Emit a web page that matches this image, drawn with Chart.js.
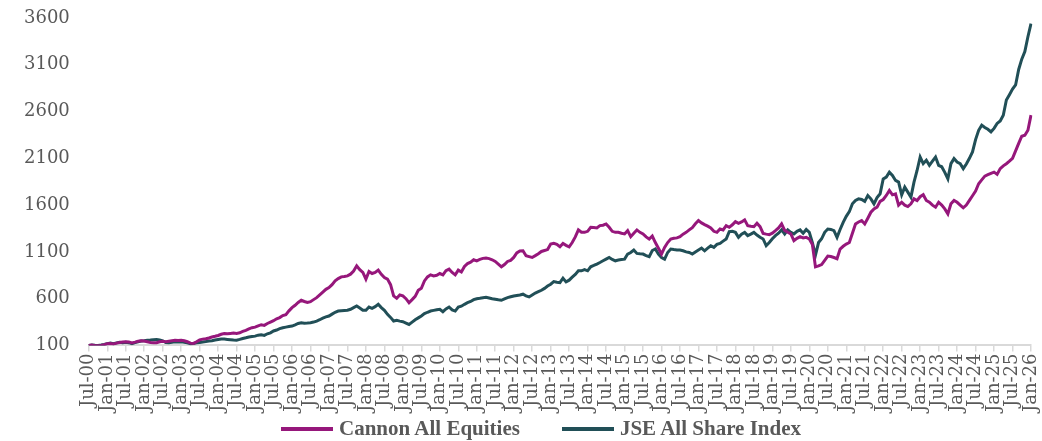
<!DOCTYPE html>
<html>
<head>
<meta charset="utf-8">
<script src="https://cdn.jsdelivr.net/npm/chart.js@4.4.1/dist/chart.umd.min.js"></script>
<style>
  html, body { margin: 0; padding: 0; background: #fff; }
  .wrap { position: relative; width: 1042px; height: 441px; }
  .legend {
    position: absolute; left: 281px; top: 416px;
    display: flex; align-items: center;
    font: bold 21px "Liberation Serif", serif; color: #595959;
    white-space: nowrap;
  }
  .legend .item { display: flex; align-items: center; margin-right: 42px; }
  .legend .swatch { display: inline-block; width: 52px; height: 4px; margin-right: 6px; }
</style>
</head>
<body>
<div class="wrap">
  <canvas id="perfChart" width="1042" height="441"></canvas>
  <div class="legend" id="legend"></div>
</div>
<script>
// Monthly index values, Jul-00 to Jan-26
const START_YEAR = 2000;
const START_MONTH = 6; // July

const CANNON = [
  100, 104, 98, 96, 101, 108,
  118, 122, 115, 125, 132, 136,  140, 138, 128, 136, 145, 150,
  148, 140, 132, 128, 130, 140,  145, 140, 145, 150, 155, 152,
  155, 150, 140, 125, 122, 140,  160, 168, 172, 180, 190, 198,
  207, 220, 228, 226, 229, 232,  229, 235, 250, 262, 278, 290,
  296, 310, 322, 315, 335, 350,  365, 385, 398, 420, 430, 470,
  504, 530, 560, 583, 570, 560,  568, 590, 611, 640, 670, 700,
  718, 750, 790, 815, 833, 838,  844, 862, 895, 951, 910, 880,
  809, 890, 869, 880, 905, 860,  826, 809, 750, 630, 604, 640,
  630, 600, 557, 590, 625, 690,  712, 790, 833, 855, 844, 850,
  869, 855, 900, 916, 880, 855,  905, 885, 945, 975, 990, 1016,
  1005, 1020, 1031, 1035, 1028, 1016,  998, 970, 941, 965, 998, 1010,
  1041, 1090, 1110, 1112, 1059, 1050,  1041, 1060, 1080, 1105, 1115, 1125,
  1184, 1191, 1180, 1155, 1191, 1170,  1155, 1200, 1260, 1335, 1310, 1309,
  1320, 1363, 1360, 1356, 1381, 1385,  1399, 1363, 1320, 1309, 1310, 1300,
  1292, 1327, 1263, 1300, 1335, 1309,  1292, 1260, 1238, 1270, 1200, 1140,
  1077, 1148, 1200, 1238, 1245, 1250,  1263, 1290, 1309, 1335, 1360, 1400,
  1435, 1410, 1392, 1375, 1356, 1320,  1309, 1345, 1335, 1381, 1363, 1390,
  1424, 1406, 1420, 1442, 1381, 1375,  1370, 1406, 1370, 1298, 1290, 1284,
  1300, 1327, 1356, 1399, 1330, 1310,  1292, 1220, 1245, 1263, 1249, 1256,
  1238, 1180, 940, 950, 965, 1010,  1055, 1050, 1040, 1027, 1131, 1160,
  1184, 1200, 1300, 1399, 1420, 1435,  1399, 1460, 1524, 1560, 1578, 1640,
  1660, 1703, 1757, 1710, 1721, 1600,  1631, 1600, 1585, 1614, 1667, 1649,
  1690, 1711, 1650, 1631, 1600, 1578,  1631, 1600, 1560, 1507, 1614, 1650,
  1630, 1600, 1571, 1600, 1650, 1700,  1750, 1829, 1870, 1910, 1925, 1940,
  1953, 1929, 1990, 2020, 2043, 2070,  2100, 2180, 2260, 2336, 2347, 2400,
  2562
];

const JSE = [
  100, 106, 102, 100, 104, 110,
  120, 126, 118, 128, 134, 130,  135, 130, 120, 130, 140, 148,
  150, 155, 158, 162, 165, 160,  150, 132, 130, 135, 140, 138,
  140, 135, 128, 118, 120, 128,  132, 138, 142, 148, 150, 158,
  164, 170, 168, 165, 162, 158,  157, 165, 175, 182, 190, 195,
  200, 210, 215, 208, 225, 235,  255, 265, 280, 290, 296, 302,
  307, 320, 335, 343, 338, 340,  343, 350, 361, 375, 392, 405,
  415, 435, 455, 468, 472, 474,  476, 487, 505, 522, 500, 476,
  476, 511, 497, 515, 540, 505,  476, 433, 400, 361, 368, 360,
  354, 340, 325, 350, 375, 395,  415, 440, 455, 468, 475, 482,
  487, 461, 490, 511, 480, 468,  511, 520, 540, 557, 570, 590,
  600, 605, 611, 615, 608, 600,  594, 588, 583, 598, 611, 620,
  629, 635, 640, 648, 630, 619,  640, 660, 675, 690, 710, 735,
  755, 783, 775, 772, 819, 780,  798, 830, 860, 898, 898, 910,
  898, 941, 955, 970, 987, 1005,  1023, 1041, 1020, 1005, 1013, 1018,
  1023, 1077, 1094, 1120, 1084, 1080,  1077, 1060, 1050, 1115, 1131, 1077,
  1040, 1023, 1094, 1131, 1125, 1120,  1120, 1112, 1100, 1094, 1077, 1100,
  1120, 1141, 1112, 1140, 1166, 1148,  1180, 1191, 1215, 1238, 1317, 1320,
  1309, 1256, 1290, 1309, 1274, 1290,  1309, 1280, 1256, 1238, 1166, 1200,
  1240, 1274, 1300, 1335, 1292, 1335,  1309, 1292, 1320, 1335, 1300, 1340,
  1309, 1200, 1065, 1200, 1240, 1310,  1345, 1340, 1327, 1256, 1340, 1416,
  1480, 1530, 1614, 1649, 1667, 1660,  1640, 1703, 1667, 1614, 1680, 1721,
  1880, 1900, 1953, 1918, 1864, 1846,  1710, 1792, 1739, 1685, 1846, 1970,
  2114, 2043, 2079, 2025, 2070, 2114,  2025, 2010, 1950, 1882, 2043, 2097,
  2060, 2043, 1990, 2040, 2100, 2168,  2300, 2400, 2455, 2430, 2410, 2383,
  2420, 2473, 2500, 2560, 2723, 2780,  2840, 2884, 3050, 3160, 3242, 3400,
  3539
];

const SERIES_NAMES = ['Cannon All Equities', 'JSE All Share Index'];
const SERIES_COLORS = ['#96177b', '#214f57'];
const MONTH_NAMES = ['Jan', 'Feb', 'Mar', 'Apr', 'May', 'Jun', 'Jul', 'Aug', 'Sep', 'Oct', 'Nov', 'Dec'];
const Y_MIN = 100, Y_MAX = 3600, Y_STEP = 500;
const LABEL_EVERY = 6;

// month labels like "Jul-00"
const labels = CANNON.map((_, i) => {
  const m = (START_MONTH + i) % 12;
  const y = START_YEAR + Math.floor((START_MONTH + i) / 12);
  return MONTH_NAMES[m] + '-' + String(y % 100).padStart(2, '0');
});

const greyText = '#595959';

const ctx = document.getElementById('perfChart').getContext('2d');
new Chart(ctx, {
  type: 'line',
  data: {
    labels: labels,
    datasets: [
      { label: SERIES_NAMES[0], data: CANNON, borderColor: SERIES_COLORS[0], backgroundColor: SERIES_COLORS[0] },
      { label: SERIES_NAMES[1], data: JSE, borderColor: SERIES_COLORS[1], backgroundColor: SERIES_COLORS[1] }
    ]
  },
  options: {
    responsive: false,
    animation: false,
    layout: { padding: { left: 24, right: 0, top: 18, bottom: 27 } },
    elements: {
      point: { radius: 0 },
      line: { borderWidth: 3, tension: 0 }
    },
    plugins: {
      legend: { display: false },
      tooltip: { enabled: false }
    },
    scales: {
      x: {
        offset: false,
        grid: {
          display: true,
          drawOnChartArea: false,
          drawTicks: true,
          tickLength: 6,
          color: '#d9d9d9',
          lineWidth: 1.5
        },
        border: { display: true, color: '#d9d9d9', width: 2 },
        ticks: {
          autoSkip: false,
          minRotation: 90,
          maxRotation: 90,
          padding: 2,
          color: greyText,
          font: { family: '"DejaVu Serif", serif', size: 18, lineHeight: 0.5 },
          callback: (value, index) => index % LABEL_EVERY === 0 ? labels[index] : null
        }
      },
      y: {
        min: Y_MIN,
        max: Y_MAX,
        // tick marks are not drawn, their length only spaces the labels
        grid: { display: false, drawTicks: true, tickLength: 19 },
        border: { display: false },
        ticks: {
          stepSize: Y_STEP,
          padding: 0,
          color: greyText,
          font: { family: '"DejaVu Serif", serif', size: 18, lineHeight: 1 },
          callback: (value) => String(value)
        }
      }
    }
  }
});

// legend below the axis labels
const legendEl = document.getElementById('legend');
SERIES_NAMES.forEach((name, i) => {
  const item = document.createElement('div');
  item.className = 'item';
  const sw = document.createElement('span');
  sw.className = 'swatch';
  sw.style.background = SERIES_COLORS[i];
  item.appendChild(sw);
  item.appendChild(document.createTextNode(name));
  legendEl.appendChild(item);
});
</script>
</body>
</html>
